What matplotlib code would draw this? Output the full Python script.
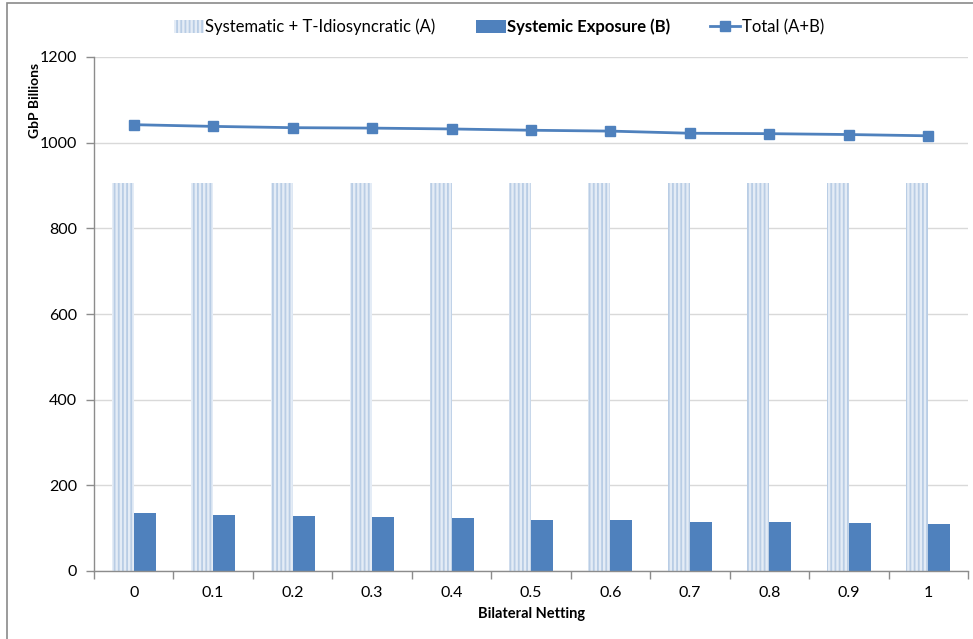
import matplotlib
matplotlib.use("Agg")
import matplotlib.pyplot as plt
import numpy as np
from matplotlib.patches import Rectangle
from matplotlib.lines import Line2D

netting = ["0", "0.1", "0.2", "0.3", "0.4", "0.5", "0.6", "0.7", "0.8", "0.9", "1"]
systematic_a = [906, 906, 906, 906, 906, 906, 906, 906, 906, 906, 906]
systemic_b = [135, 131, 128, 127, 124, 120, 118, 114, 114, 111, 109]
total_ab = [1042, 1038, 1035, 1034, 1032, 1029, 1027, 1022, 1021, 1019, 1016]

plt.rcParams["font.family"] = ["Lato", "DejaVu Sans"]
plt.rcParams["hatch.linewidth"] = 1.3

blue = "#4f81bd"
hatch_edge = "#b9cde5"
hatch_face = "#e4ecf6"
axis_grey = "#8c8c8c"
grid_grey = "#d9d9d9"

fig = plt.figure(figsize=(9.73, 6.39), dpi=100)
ax = fig.add_axes([94 / 973, 1 - 571 / 639, (968 - 94) / 973, (571 - 57) / 639])

x = np.arange(len(netting))
w = 0.277
ax.bar(x - w / 2, systematic_a, width=w, color=hatch_face, edgecolor=hatch_edge,
       hatch="||||", linewidth=0, zorder=2)
ax.bar(x + w / 2, systemic_b, width=w, color=blue, linewidth=0, zorder=2)
ax.plot(x, total_ab, "-s", color=blue, lw=2.0, ms=7, zorder=3)

ax.set_xlim(-0.5, len(netting) - 0.5)
ax.set_ylim(0, 1200)
ax.set_yticks(np.arange(0, 1201, 200))
ax.grid(axis="y", color=grid_grey, lw=1.0, zorder=0)
ax.set_axisbelow(True)

ax.set_xticks(x)
ax.set_xticklabels(netting)
ax.set_xticks(np.arange(-0.5, len(netting), 1.0), minor=True)
ax.tick_params(axis="x", which="major", length=0, pad=11, labelsize=11.5, colors="black")
ax.tick_params(axis="x", which="minor", length=6, width=1.0, color=axis_grey)
ax.tick_params(axis="y", which="major", length=6, width=1.0, color=axis_grey,
               pad=6, labelsize=11.5)

for side in ("top", "right"):
    ax.spines[side].set_visible(False)
for side in ("left", "bottom"):
    ax.spines[side].set_color(axis_grey)
    ax.spines[side].set_linewidth(1.0)

fig.text(35 / 973, 1 - 100 / 639, "GbP Billions", rotation=90, ha="center", va="center",
         fontsize=10, fontweight="bold")
fig.text(532 / 973, 1 - 614 / 639, "Bilateral Netting", ha="center", va="center",
         fontsize=10.5, fontweight="bold")

handles = [
    Rectangle((0, 0), 1, 1, facecolor=hatch_face, edgecolor=hatch_edge, hatch="||||", linewidth=0),
    Rectangle((0, 0), 1, 1, facecolor=blue, linewidth=0),
    Line2D([], [], color=blue, marker="s", lw=2.0, ms=7),
]
labels = ["Systematic + T-Idiosyncratic (A)", "Systemic Exposure (B)", "Total (A+B)"]
leg = fig.legend(handles, labels, loc="center", bbox_to_anchor=(499 / 973, 1 - 27 / 639),
                 ncol=3, frameon=False, fontsize=12, handlelength=1.8, handleheight=0.8,
                 handletextpad=0.1, columnspacing=2.4)
leg.get_texts()[1].set_fontweight("bold")

fig.patches.append(Rectangle((6.5 / 973, -0.05), 1.1, 1.05 - 2.5 / 639, transform=fig.transFigure,
                             fill=False, edgecolor="#8a8a8a", lw=1.2))

fig.savefig("out.png", dpi=100)
